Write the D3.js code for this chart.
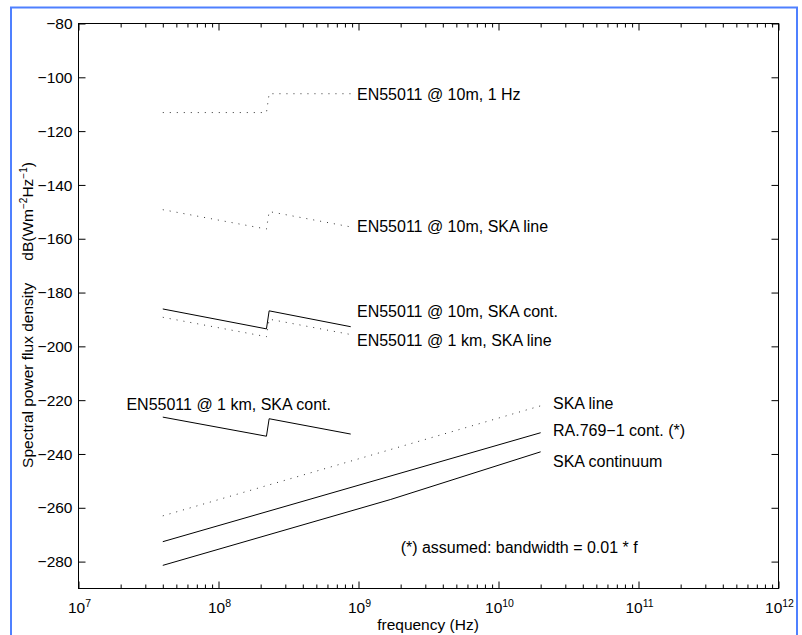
<!DOCTYPE html>
<html>
<head>
<meta charset="utf-8">
<script src="https://cdn.jsdelivr.net/npm/d3@7"></script>
<style>
  html, body { margin: 0; padding: 0; background: #fff; }
  svg { display: block; font-family: "Liberation Sans", Arial, Helvetica, sans-serif; }
</style>
</head>
<body>
<svg id="chart" width="802" height="635"></svg>
<script>
// ---------------- data ----------------
const xTickExponents = [7, 8, 9, 10, 11, 12];
const yTickValues = [-80, -100, -120, -140, -160, -180, -200, -220, -240, -260, -280];

// EN55011 limit lines (frequency in Hz, value in dB(W m^-2 Hz^-1))
const freqEN = [4e7, 2.2e8, 2.3e8, 8.8e8];
const en10m1Hz      = [-113.1, -113.1, -106.1, -106.1];
const en10mSkaLine  = [-149.2, -156.4, -149.9, -155.6];
const en10mSkaCont  = [-186.1, -193.5, -186.8, -192.7];
const en1kmSkaLine  = [-189.2, -196.4, -189.9, -195.6];
const en1kmSkaCont  = [-226.3, -233.4, -226.9, -232.6];

// Protection thresholds
const freqSkaLine = [4e7, 2e10];
const skaLine     = [-263.0, -222.1];
const freqRA769   = [4e7, 2e10];
const ra769Cont   = [-272.6, -232.1];
const freqSkaCont = [4e7, 1.7e9, 2e10];
const skaContinuum = [-281.4, -256.9, -239.2];

const seriesList = [
  { name: "EN55011 @ 10m, 1 Hz",      f: freqEN,      v: en10m1Hz,     dotted: true },
  { name: "EN55011 @ 10m, SKA line",  f: freqEN,      v: en10mSkaLine, dotted: true },
  { name: "EN55011 @ 10m, SKA cont.", f: freqEN,      v: en10mSkaCont, dotted: false },
  { name: "EN55011 @ 1 km, SKA line", f: freqEN,      v: en1kmSkaLine, dotted: true },
  { name: "EN55011 @ 1 km, SKA cont.",f: freqEN,      v: en1kmSkaCont, dotted: false },
  { name: "SKA line",                 f: freqSkaLine, v: skaLine,      dotted: true },
  { name: "RA.769-1 cont.",           f: freqRA769,   v: ra769Cont,    dotted: false },
  { name: "SKA continuum",            f: freqSkaCont, v: skaContinuum, dotted: false }
];

// Annotation texts, anchored in data coordinates (left edge, vertical middle)
const labelTexts = ["EN55011 @ 10m, 1 Hz", "EN55011 @ 10m, SKA line", "EN55011 @ 10m, SKA cont.",
  "EN55011 @ 1 km, SKA line", "EN55011 @ 1 km, SKA cont.", "SKA line", "RA.769\u22121 cont. (*)",
  "SKA continuum", "(*) assumed: bandwidth = 0.01 * f"];
const labelFreqs = [9.75e8, 9.75e8, 9.75e8, 9.75e8, 2.2e7, 2.45e10, 2.45e10, 2.45e10, 2.0e9];
const labelDb    = [-106.3, -155.5, -186.8, -197.6, -221.4, -221.3, -231.0, -242.6, -274.8];

// ---------------- layout ----------------
const svg = d3.select("#chart");
const W = 802, H = 635;
const plot = { left: 78.5, right: 778.5, top: 23.5, bottom: 588.5 };

svg.append("rect").attr("x", 0).attr("y", 0).attr("width", W).attr("height", H).attr("fill", "#fff");
// blue frame
svg.append("rect").attr("x", 11).attr("y", 7.5).attr("width", 786).attr("height", 640)
  .attr("fill", "none").attr("stroke", "#4f80ff").attr("stroke-width", 2);

const x = d3.scaleLog().domain([1e7, 1e12]).range([plot.left, plot.right]);
const y = d3.scaleLinear().domain([-290, -80]).range([plot.bottom, plot.top]);

const g = svg.append("g");

// axes box
g.append("rect").attr("x", plot.left).attr("y", plot.top)
  .attr("width", plot.right - plot.left).attr("height", plot.bottom - plot.top)
  .attr("fill", "none").attr("stroke", "#000").attr("stroke-width", 1);

// x ticks (major + minor), inward at bottom and top
const xMajor = xTickExponents.map(e => Math.pow(10, e));
const xMinor = [];
xTickExponents.slice(0, -1).forEach(e => { for (let k = 2; k <= 9; k++) xMinor.push(k * Math.pow(10, e)); });

const bottomAxis = d3.axisBottom(x).tickValues(xMajor).tickSizeInner(-7).tickSizeOuter(0).tickFormat("");
const bottomMinor = d3.axisBottom(x).tickValues(xMinor).tickSizeInner(-4).tickSizeOuter(0).tickFormat("");
const topAxis = d3.axisTop(x).tickValues(xMajor).tickSizeInner(-7).tickSizeOuter(0).tickFormat("");
const topMinor = d3.axisTop(x).tickValues(xMinor).tickSizeInner(-4).tickSizeOuter(0).tickFormat("");

[[bottomAxis, plot.bottom], [bottomMinor, plot.bottom], [topAxis, plot.top], [topMinor, plot.top]].forEach(([ax, yy]) => {
  const a = g.append("g").attr("transform", `translate(0,${yy})`).call(ax);
  a.select(".domain").remove();
  a.selectAll("line").attr("stroke", "#000");
});

// y ticks inward on left and right
const leftAxis = d3.axisLeft(y).tickValues(yTickValues).tickSizeInner(-7).tickSizeOuter(0).tickFormat("");
const rightAxis = d3.axisRight(y).tickValues(yTickValues).tickSizeInner(-7).tickSizeOuter(0).tickFormat("");
[[leftAxis, plot.left], [rightAxis, plot.right]].forEach(([ax, xx]) => {
  const a = g.append("g").attr("transform", `translate(${xx},0)`).call(ax);
  a.select(".domain").remove();
  a.selectAll("line").attr("stroke", "#000");
});

// y tick labels
g.append("g").selectAll("text").data(yTickValues).join("text")
  .attr("x", plot.left - 6).attr("y", d => y(d)).attr("dy", "0.36em")
  .attr("text-anchor", "end").attr("font-size", 15.5).attr("fill", "#000")
  .text(d => d < 0 ? "\u2212" + Math.abs(d) : String(d));

// x tick labels 10^n
const xl = g.append("g").selectAll("text").data(xTickExponents).join("text")
  .attr("x", d => x(Math.pow(10, d)) + 1).attr("y", 613)
  .attr("text-anchor", "middle").attr("font-size", 15.5).attr("fill", "#000");
xl.append("tspan").text("10");
xl.append("tspan").attr("font-size", 10.5).attr("dy", -6.5).text(d => d);

// axis titles
svg.append("text").attr("x", 428).attr("y", 630).attr("text-anchor", "middle")
  .attr("font-size", 15.5).text("frequency (Hz)");

const yl = svg.append("text").attr("transform", "translate(33,315) rotate(-90)")
  .attr("text-anchor", "middle").attr("font-size", 15.5);
yl.append("tspan").text("Spectral power flux density");
yl.append("tspan").attr("dx", 22).text("dB(Wm");
yl.append("tspan").attr("font-size", 10).attr("dy", -6).text("\u22122");
yl.append("tspan").attr("dy", 6).text("Hz");
yl.append("tspan").attr("font-size", 10).attr("dy", -6).text("\u22121");
yl.append("tspan").attr("dy", 6).text(")");

// series lines
const line = d3.line().x(d => x(d[0])).y(d => y(d[1]));
g.append("g").selectAll("path").data(seriesList).join("path")
  .attr("d", s => line(s.f.map((f, i) => [f, s.v[i]])))
  .attr("fill", "none")
  .attr("stroke", s => s.dotted ? "#333" : "#000")
  .attr("stroke-width", 1)
  .attr("stroke-dasharray", s => s.dotted ? "1,6" : null);

// annotations
g.append("g").selectAll("text").data(labelTexts).join("text")
  .attr("x", (d, i) => x(labelFreqs[i]))
  .attr("y", (d, i) => y(labelDb[i]))
  .attr("dy", "0.36em")
  .attr("font-size", 16).attr("fill", "#000")
  .text(d => d);
</script>
</body>
</html>
